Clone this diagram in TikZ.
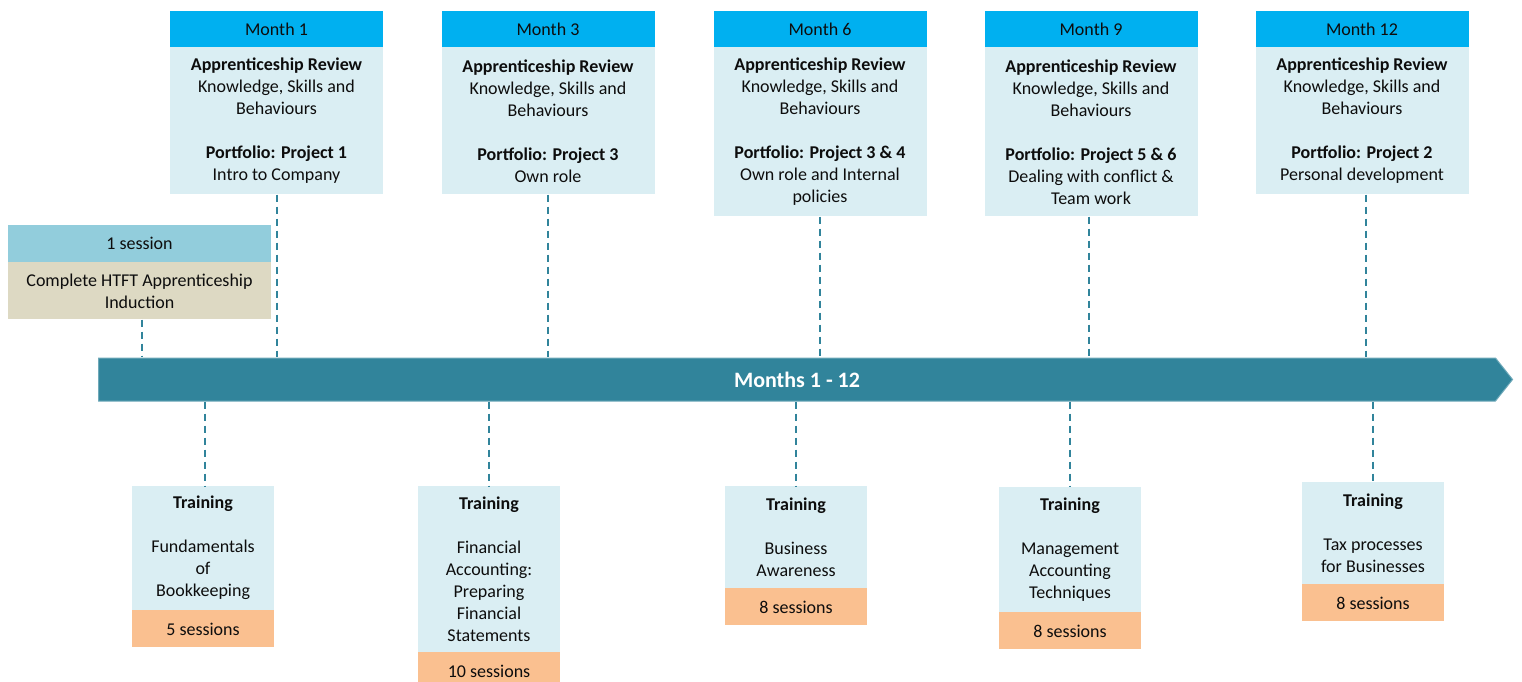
\documentclass[tikz,border=0pt]{standalone}
\usepackage{fontspec}
\setmainfont{Carlito}
\usepackage{tikz}
\usetikzlibrary{positioning,shapes.arrows}
\definecolor{colorhead}   {RGB}{0  ,176,240}
\definecolor{colorbody}   {RGB}{218,238,243}
\definecolor{colorinduct} {RGB}{146,205,220}
\definecolor{colortan}    {RGB}{221,217,195}
\definecolor{colorsession}{RGB}{250,192,144}
\definecolor{colorbar}    {RGB}{49 ,132,155}
\definecolor{colortext}   {RGB}{13 ,13 ,13 }
\begin{document}
\begin{tikzpicture}[
    x=1pt, y=-1pt,
    font={\fontsize{18}{22}\selectfont},
    base/.style={text=colortext,inner sep=0pt,align=center,rectangle,minimum width=213pt},
    head/.style={base,fill=colorhead,minimum height=36pt},
    review/.style={base,fill=colorbody},
    train/.style={base,fill=colorbody,minimum width=142pt},
    sess/.style={base,fill=colorsession,minimum width=142pt,minimum height=37pt},
    link/.style={colorbar,line width=2pt,dash pattern=on 7pt off 5pt},
]
    \useasboundingbox (0,0) rectangle (1522,682);

    \node[head] at (276.5,29) (month1) {Month 1};
    \node[review,minimum height=147pt,below=0pt of month1] (review1)
        {\textbf{Apprenticeship Review}\\Knowledge, Skills and\\Behaviours\\[22pt]\textbf{Portfolio: Project 1}\\Intro to Company};

    \node[head] at (548,29) (month3) {Month 3};
    \node[review,minimum height=147pt,below=0pt of month3] (review3)
        {\textbf{Apprenticeship Review}\\Knowledge, Skills and\\Behaviours\\[22pt]\textbf{Portfolio: Project 3}\\Own role};

    \node[head] at (820,29) (month6) {Month 6};
    \node[review,minimum height=169pt,below=0pt of month6] (review6)
        {\textbf{Apprenticeship Review}\\Knowledge, Skills and\\Behaviours\\[22pt]\textbf{Portfolio: Project 3 \& 4}\\Own role and Internal\\policies};

    \node[head] at (1091,29) (month9) {Month 9};
    \node[review,minimum height=169pt,below=0pt of month9] (review9)
        {\textbf{Apprenticeship Review}\\Knowledge, Skills and\\Behaviours\\[22pt]\textbf{Portfolio: Project 5 \& 6}\\Dealing with conflict \&\\Team work};

    \node[head] at (1362,29) (month12) {Month 12};
    \node[review,minimum height=147pt,below=0pt of month12] (review12)
        {\textbf{Apprenticeship Review}\\Knowledge, Skills and\\Behaviours\\[22pt]\textbf{Portfolio: Project 2}\\Personal development};

    \node[base,fill=colorinduct,minimum width=263pt,minimum height=37pt] at (139.5,243.5) (induct) {1 session};
    \node[base,fill=colortan,minimum width=263pt,minimum height=57pt,below=0pt of induct] (inductbody)
        {Complete HTFT Apprenticeship\\Induction};

    \node[single arrow,fill=colorbar,draw=colorbar!70!white,line width=1pt,
          minimum width=43pt,minimum height=1414pt,inner sep=0pt,
          single arrow head extend=0pt,single arrow tip angle=103,
          text=white,font={\fontsize{22}{26}\selectfont\bfseries}] at (797,379.5) (bar) {Months 1 - 12};

    \node[train,minimum height=124pt] at (203,548) (train1)
        {\textbf{Training}\\[22pt]Fundamentals\\of\\Bookkeeping};
    \node[sess,below=0pt of train1] (sess1) {5 sessions};

    \node[train,minimum height=166pt] at (489,569) (train2)
        {\textbf{Training}\\[22pt]Financial\\Accounting:\\Preparing\\Financial\\Statements};
    \node[sess,below=0pt of train2] (sess2) {10 sessions};

    \node[train,minimum height=102pt] at (796,537) (train3)
        {\textbf{Training}\\[22pt]Business\\Awareness};
    \node[sess,below=0pt of train3] (sess3) {8 sessions};

    \node[train,minimum height=125pt] at (1070,549.5) (train4)
        {\textbf{Training}\\[22pt]Management\\Accounting\\Techniques};
    \node[sess,below=0pt of train4] (sess4) {8 sessions};

    \node[train,minimum height=102pt] at (1373,533) (train5)
        {\textbf{Training}\\[22pt]Tax processes\\for Businesses};
    \node[sess,below=0pt of train5] (sess5) {8 sessions};

    \draw[link] ([xshift=2.5pt]inductbody.south) -- ([xshift=2.5pt]inductbody.south |- bar.north);
    \draw[link] (review1.south) -- (review1.south |- bar.north);
    \draw[link] (review3.south) -- (review3.south |- bar.north);
    \draw[link] (review6.south) -- (review6.south |- bar.north);
    \draw[link] ([xshift=-2pt]review9.south) -- ([xshift=-2pt]review9.south |- bar.north);
    \draw[link] ([xshift=4pt]review12.south) -- ([xshift=4pt]review12.south |- bar.north);

    \draw[link] ([xshift=2pt]train1.north |- bar.south) -- ([xshift=2pt]train1.north);
    \draw[link] (train2.north |- bar.south) -- (train2.north);
    \draw[link] (train3.north |- bar.south) -- (train3.north);
    \draw[link] (train4.north |- bar.south) -- (train4.north);
    \draw[link] (train5.north |- bar.south) -- (train5.north);

\end{tikzpicture}
\end{document}
